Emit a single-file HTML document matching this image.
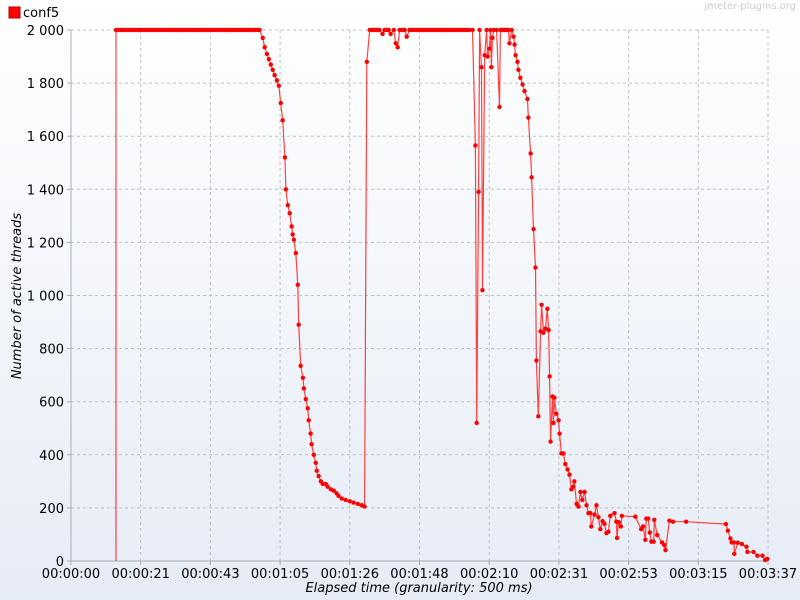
<!DOCTYPE html>
<html><head><meta charset="utf-8">
<style>
html,body{margin:0;padding:0;width:800px;height:600px;overflow:hidden;}
body{background:linear-gradient(#ffffff,#e6ecf6);font-family:"DejaVu Sans","Liberation Sans",sans-serif;}
svg text{font-family:"DejaVu Sans","Liberation Sans",sans-serif;}
</style></head>
<body>
<svg id="chart" width="800" height="600" xmlns="http://www.w3.org/2000/svg">
  <rect x="9" y="7" width="11" height="11" fill="#ff0000" stroke="#b00000" stroke-width="1"/>
  <text x="23" y="17" font-size="13" fill="#000">conf5</text>
  <text x="796" y="9" font-size="10" fill="#c8ccd4" text-anchor="end">jmeter-plugins.org</text>
  <g id="grid"></g>
  <g id="axes"></g>
  <g id="series"></g>
  <text transform="translate(21,296) rotate(-90)" font-size="13" font-style="italic" text-anchor="middle">Number of active threads</text>
  <text x="419" y="592" font-size="13" font-style="italic" text-anchor="middle">Elapsed time (granularity: 500 ms)</text>
</svg>
<script>
const xTickLabels=["00:00:00","00:00:21","00:00:43","00:01:05","00:01:26","00:01:48","00:02:10","00:02:31","00:02:53","00:03:15","00:03:37"];
const yTickValues=[0,200,400,600,800,1000,1200,1400,1600,1800,2000];
const yTickLabels=["0","200","400","600","800","1 000","1 200","1 400","1 600","1 800","2 000"];
const times=[14,14,14.75,15.5,16.25,17,17.75,18.5,19.25,20,20.75,21.5,22.25,23,23.75,24.5,25.25,26,26.75,27.5,28.25,29,29.75,30.5,31.25,32,32.75,33.5,34.25,35,35.75,36.5,37.25,38,38.75,39.5,40.25,41,41.75,42.5,43.25,44,44.75,45.5,46.25,47,47.75,48.5,49.25,50,50.75,51.5,52.25,53,53.75,54.5,55.25,56,56.75,57.5,58.25,58.7,
59.7,60.3,61.0,61.6,62.2,62.8,63.4,64.1,64.7,65.3,65.9,66.6,66.9,67.5,68.1,68.7,69.0,69.4,70.0,70.6,70.9,71.5,72.2,72.5,73.1,73.7,74.0,74.6,74.9,75.6,76.2,76.5,77.1,77.8,78.4,79.3,79.9,80.9,81.8,82.7,83.3,84.3,85.5,86.8,88.0,89.3,90.5,91.4,92.1,93.0,
93.75,94.5,95.25,96,97.0,97.6,98.3,98.9,99.5,100.5,101.1,101.7,102.3,103.1,103.9,104.5,105.4,106,106.75,107.5,108.25,109,109.75,110.5,111.25,112,112.75,113.5,114.25,115,115.75,116.5,117.25,118,118.75,119.5,120.25,121,121.75,122.5,123.25,124,125.0,
125.9,126.3,126.9,127.2,127.8,128.1,128.8,129.4,129.7,130.3,130.6,130.9,131.2,131.6,132.5,133.4,133.7,134.4,135,135.6,136.2,136.5,137.2,137.8,138.1,138.4,139.0,139.3,139.9,140.6,141.2,142.1,142.4,143.1,143.4,144.0,144.6,144.9,145.5,146.2,146.5,147.1,147.7,148.3,148.7,149.0,149.3,149.9,150.2,150.5,151.1,151.8,152.1,152.7,153.3,153.9,154.6,155.2,155.8,156.4,156.7,157.4,158.0,158.6,159.2,159.9,160.5,161.1,161.7,162.0,163.0,163.6,164.2,164.8,165.5,166.1,166.7,167.3,167.9,169.2,169.8,170.0,170.5,171.2,171.5,175.7,177.5,178.1,178.8,179.1,179.7,180.2,180.7,181.4,181.6,182.5,184.0,184.7,185.1,186.3,187.4,191.5,203.9,204.5,205.3,205.7,206.4,206.5,207.6,208.9,210.3,210.6,212.5,213.7,215.3,216.1,216.8];
const threads=[0,2000,2000,2000,2000,2000,2000,2000,2000,2000,2000,2000,2000,2000,2000,2000,2000,2000,2000,2000,2000,2000,2000,2000,2000,2000,2000,2000,2000,2000,2000,2000,2000,2000,2000,2000,2000,2000,2000,2000,2000,2000,2000,2000,2000,2000,2000,2000,2000,2000,2000,2000,2000,2000,2000,2000,2000,2000,2000,2000,2000,2000,
1970,1935,1910,1890,1870,1850,1830,1810,1790,1725,1660,1520,1400,1340,1310,1260,1230,1210,1160,1040,890,735,690,650,610,575,530,480,440,400,370,340,320,300,290,290,280,270,265,255,245,235,230,225,220,215,210,205,1880,2000,
2000,2000,2000,2000,1985,2000,2000,2000,1985,2000,1950,1935,2000,2000,2000,1975,2000,2000,2000,2000,2000,2000,2000,2000,2000,2000,2000,2000,2000,2000,2000,2000,2000,2000,2000,2000,2000,2000,2000,2000,2000,2000,2000,
1565,520,1390,2000,1860,1020,1905,2000,1900,1930,2000,1860,1970,2000,2000,1710,2000,2000,2000,2000,2000,1950,2000,1975,1945,1905,1880,1850,1820,1795,1770,1740,1670,1535,1445,1250,1105,755,545,865,965,860,875,950,870,695,450,620,520,615,555,530,480,405,405,365,345,325,270,280,300,215,205,260,230,260,210,180,180,130,175,210,165,120,150,140,105,110,170,180,148,87,146,130,170,167,120,130,80,160,160,107,73,73,155,98,70,60,41,152,148,148,139,114,85,70,70,27,69,64,54,34,34,20,20,4,8];

const X0=71,X1=768,Y0=561,Y1=30,TMAX=217,VMAX=2000;
const xs=t=>X0+(t/TMAX)*(X1-X0);
const ys=v=>Y0-(v/VMAX)*(Y0-Y1);
const NS="http://www.w3.org/2000/svg";
function mk(tag,attrs,parent){const e=document.createElementNS(NS,tag);for(const k in attrs)e.setAttribute(k,attrs[k]);parent.appendChild(e);return e;}
const grid=document.getElementById('grid'),axes=document.getElementById('axes'),series=document.getElementById('series');
yTickValues.forEach((v,i)=>{
  const y=ys(v);
  if(v>0){const g=mk('line',{x1:X0,x2:X1,y1:y,y2:y,stroke:'#c0c0c0','stroke-dasharray':'3,3'},grid);
  
  }
  const tk=mk('line',{x1:X0-4,x2:X0,y1:y,y2:y,stroke:'#a8aeb8'},axes);
  
  
  const tx=mk('text',{x:X0-7,y:y+5,'font-size':13,'text-anchor':'end'},axes);
  tx.textContent=yTickLabels[i];
  
  
});
xTickLabels.forEach((lab,i)=>{
  const x=xs(i*TMAX/(xTickLabels.length-1));
  if(i>0){const g=mk('line',{x1:x,x2:x,y1:Y1,y2:Y0,stroke:'#c0c0c0','stroke-dasharray':'3,3'},grid);
  
  }
  const tk=mk('line',{x1:x,x2:x,y1:Y0,y2:Y0+4,stroke:'#a8aeb8'},axes);
  
  
  const tx=mk('text',{x:x,y:Y0+17,'font-size':13,'text-anchor':'middle'},axes);
  tx.textContent=lab;
  
  
});
const ax1=mk('line',{x1:X0,x2:X0,y1:Y1,y2:Y0,stroke:'#a8aeb8'},axes);


const ax2=mk('line',{x1:X0,x2:X1,y1:Y0,y2:Y0,stroke:'#a8aeb8'},axes);


const pts=times.map((t,i)=>xs(t).toFixed(1)+','+ys(threads[i]).toFixed(1)).join(' ');
const pl=mk('polyline',{points:pts,fill:'none',stroke:'#ff2020','stroke-width':1.2,'stroke-opacity':0.85},series);


times.forEach((t,i)=>{
  if(i===0)return;
  const c=mk('circle',{cx:xs(t),cy:ys(threads[i]),r:2.2,fill:'#ff0000'},series);
  
  
});
</script>
</body></html>
